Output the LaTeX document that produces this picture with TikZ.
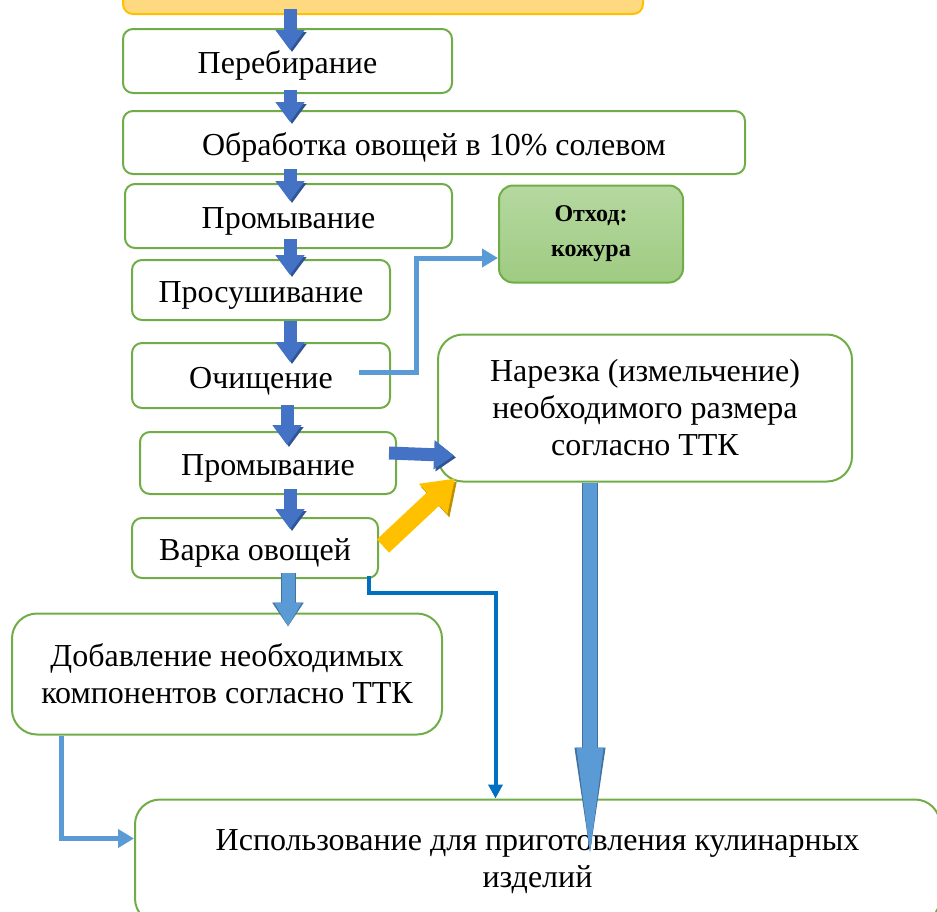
\documentclass[tikz,border=0pt]{standalone}
\usepackage{fontspec}
\setmainfont{Liberation Serif}
\usetikzlibrary{arrows.meta,calc}

\definecolor{boxgreen}{HTML}{70AD47}
\definecolor{topfill}{HTML}{FFD97F}
\definecolor{topborder}{HTML}{FFC000}
\definecolor{othodtop}{HTML}{B5D8A0}
\definecolor{othodbot}{HTML}{9FCB82}
\definecolor{arrblue}{HTML}{4472C4}
\definecolor{arrdark}{HTML}{2F5597}
\definecolor{lblue}{HTML}{5B9BD5}
\definecolor{lbluedark}{HTML}{41719C}
\definecolor{dblue}{HTML}{0070C0}
\definecolor{gold}{HTML}{FFC000}
\definecolor{golddark}{HTML}{BF9000}

\begin{document}
\begin{tikzpicture}[x=1pt,y=-1pt,
    every node/.style={font=\fontsize{32}{37}\selectfont},
    box/.style={draw=boxgreen,line width=2pt,rounded corners=10pt,fill=white,
      align=center,inner sep=0pt},
    onebox/.style={box,text height=32pt,text depth=7pt},
    bigbox/.style={box,rounded corners=25pt},
    blk/.style={line width=13pt,draw=arrblue,-{Triangle[length=20pt,width=0pt 2.15]},
      preaction={draw=arrdark,transform canvas={xshift=2pt,yshift=-2pt}}},
    lblk/.style={line width=13pt,draw=lblue,-{Triangle[length=24pt,width=0pt 2]},
      preaction={draw=lbluedark,line width=15pt}},
    yblk/.style={line width=18pt,draw=gold,-{Triangle[length=30pt,width=0pt 2.2]},
      preaction={draw=golddark,transform canvas={xshift=2pt,yshift=-3pt}}},
    longblk/.style={line width=14pt,draw=lblue,-{Triangle[length=135pt,width=0pt 1.6]},
      preaction={draw=lbluedark,line width=16pt}},
    lline/.style={draw=lblue,line width=5pt,-{Triangle[length=16pt,width=18pt]}},
    dline/.style={draw=dblue,line width=4pt,-{Triangle[length=14pt,width=14pt]}}]
  \useasboundingbox (0,0) rectangle (937,911);
  \clip (0,0) rectangle (937,911);

  % boxes
  \node[box,draw=topborder,fill=topfill,minimum width=520pt,minimum height=60pt] (top) at (383,-16) {};
  \node[onebox,minimum width=329pt,minimum height=64pt] (pere) at (287.5,61) {Перебирание};
  \node[onebox,minimum width=622pt,minimum height=63pt] (obr) at (434,142.5) {Обработка овощей в 10\% солевом};
  \node[onebox,minimum width=327pt,minimum height=64pt] (prom1) at (288.5,216) {Промывание};
  \node[onebox,minimum width=258pt,minimum height=60pt] (prosush) at (261,290) {Просушивание};
  \node[onebox,minimum width=258pt,minimum height=65pt] (ochist) at (261,375.5) {Очищение};
  \node[box,rounded corners=14pt,top color=othodtop,bottom color=othodbot,
    minimum width=184pt,minimum height=97pt,font=\fontsize{24}{35}\selectfont\bfseries] (othod) at (591,234) {Отход:\\кожура};
  \node[bigbox,minimum width=414pt,minimum height=147pt] (narez) at (645,408) {Нарезка (измельчение)\\необходимого размера\\согласно ТТК};
  \node[onebox,minimum width=256pt,minimum height=62pt] (prom2) at (268,463) {Промывание};
  \node[onebox,minimum width=246pt,minimum height=60pt] (varka) at (255,548) {Варка овощей};
  \node[bigbox,minimum width=430pt,minimum height=121pt] (dobav) at (227,674) {Добавление необходимых\\компонентов согласно ТТК};
  \node[bigbox,minimum width=805pt,minimum height=124pt] (isp) at (537.5,861.5) {Использование для приготовления кулинарных\\изделий};

  % block arrows down the chain
  \coordinate (ax) at (290,0);
  \draw[blk] ($(ax |- top.south)+(0,-6)$) -- ($(ax |- pere.north)+(0,22)$);
  \draw[blk] ($(ax |- pere.south)+(0,-4)$) -- ($(ax |- obr.north)+(0,12)$);
  \draw[blk] ($(ax |- obr.south)+(0,-6)$) -- ($(ax |- prom1.north)+(0,18)$);
  \draw[blk] ($(ax |- prom1.south)+(0,-10)$) -- ($(ax |- prosush.north)+(0,16)$);
  \draw[blk] ($(ax |- prosush.south)$) -- ($(ax |- ochist.north)+(0,20)$);
  \draw[blk] ($(ax |- ochist.south)+(-3,-4)$) -- ($(ax |- prom2.north)+(-3,14)$);
  \draw[blk] ($(ax |- prom2.south)+(0,-6)$) -- ($(ax |- varka.north)+(0,12)$);
  \draw[lblk] ($(ax |- varka.south)+(-2,-6)$) -- ($(ax |- dobav.north)+(-2,14)$);
  \draw[blk] ($(prom2.east)+(-8,-10)$) -- ($(narez.south west)+(17,-27)$);
  \draw[yblk] ($(varka.east)+(4,-2)$) -- ($(narez.south west)+(18,-4)$);
  \draw[longblk] ($(narez.south)+(-55,0)$) -- ($(narez.south)+(-55,400)$);

  % lines
  \draw[lline] ($(ochist.east)+(-32,-3)$) -- ++(57,0) |- ($(othod.west)+(0,24)$);
  \draw[dline] ($(varka.south east)+(-10,-3)$) -- ++(0,17) -| ($(isp.north west)+(361.5,0)$);
  \draw[lline] ($(dobav.south west)+(50,0)$) |- ($(isp.west)+(0,-23)$);
\end{tikzpicture}
\end{document}
